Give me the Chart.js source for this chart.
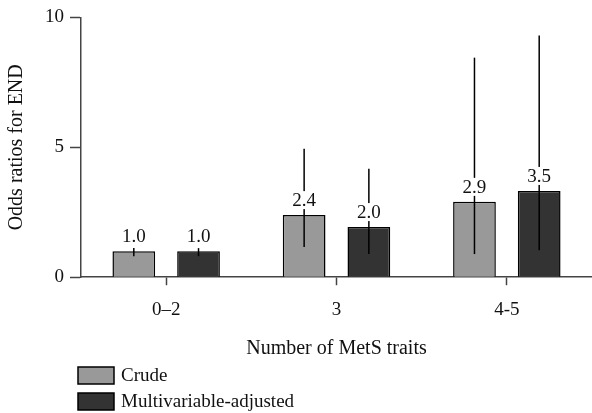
<!DOCTYPE html>
<html>
<head>
<meta charset="utf-8">
<script src="https://cdn.jsdelivr.net/npm/chart.js@4"></script>
<style>
  html, body { margin: 0; padding: 0; background: #fff; }
  #wrap { width: 592px; height: 413px; }
</style>
</head>
<body>
<div id="wrap"><canvas id="orChart" width="592" height="413"></canvas></div>
<script>
const categories = ["0–2", "3", "4-5"];
const crude = [1.0, 2.39, 2.9];
const adjusted = [1.0, 1.93, 3.32];
const crudeLabels = ["1.0", "2.4", "2.9"];
const adjustedLabels = ["1.0", "2.0", "3.5"];
const crudeLow = [0.81, 1.16, 0.89];
const crudeHigh = [1.12, 4.94, 8.45];
const adjustedLow = [0.81, 0.89, 1.04];
const adjustedHigh = [1.12, 4.17, 9.3];
const yTicks = [0, 5, 10];

const FONT = "'Liberation Serif', 'DejaVu Serif', serif";
const ciLow = [crudeLow, adjustedLow];
const ciHigh = [crudeHigh, adjustedHigh];
const valueLabels = [crudeLabels, adjustedLabels];

// whiskers + value labels (white box behind text hides the whisker)
const errorBars = {
  id: "errorBars",
  afterDatasetsDraw(chart) {
    const ctx = chart.ctx;
    const y = chart.scales.y;
    ctx.save();
    chart.data.datasets.forEach((ds, i) => {
      chart.getDatasetMeta(i).data.forEach((bar, j) => {
        ctx.strokeStyle = "#000";
        ctx.lineWidth = 1.5;
        ctx.beginPath();
        ctx.moveTo(bar.x, y.getPixelForValue(ciLow[i][j]));
        ctx.lineTo(bar.x, y.getPixelForValue(ciHigh[i][j]));
        ctx.stroke();
      });
    });
    ctx.font = "19px " + FONT;
    ctx.textAlign = "center";
    ctx.textBaseline = "middle";
    chart.data.datasets.forEach((ds, i) => {
      chart.getDatasetMeta(i).data.forEach((bar, j) => {
        const txt = valueLabels[i][j];
        const w = ctx.measureText(txt).width;
        const cy = bar.y - 15;
        ctx.fillStyle = "#fff";
        ctx.fillRect(bar.x - w / 2 - 1, cy - 9, w + 2, 18);
        ctx.fillStyle = "#111";
        ctx.fillText(txt, bar.x, cy + 1);
      });
    });
    ctx.restore();
  },
  afterDraw(chart) {
    const ctx = chart.ctx;
    ctx.save();
    ctx.font = "19px " + FONT;
    ctx.textBaseline = "middle";
    chart.data.datasets.forEach((ds, i) => {
      const top = 367 + i * 26;
      ctx.fillStyle = ds.backgroundColor;
      ctx.fillRect(78, top, 36, 17);
      ctx.strokeStyle = "#000";
      ctx.lineWidth = 1.5;
      ctx.strokeRect(78, top, 36, 17);
      ctx.fillStyle = "#111";
      ctx.fillText(ds.label, 121, top + 9);
    });
    ctx.restore();
  },
};

new Chart(document.getElementById("orChart"), {
  type: "bar",
  data: {
    labels: categories,
    datasets: [
      {
        label: "Crude",
        data: crude,
        backgroundColor: "#999999",
        borderColor: "#000",
        borderWidth: 1.5,
        borderSkipped: "bottom",
        categoryPercentage: 0.76,
        barPercentage: 0.66,
      },
      {
        label: "Multivariable-adjusted",
        data: adjusted,
        backgroundColor: "#333333",
        borderColor: "#000",
        borderWidth: 1.5,
        borderSkipped: "bottom",
        categoryPercentage: 0.76,
        barPercentage: 0.66,
      },
    ],
  },
  options: {
    responsive: false,
    animation: false,
    layout: { padding: { top: 15, right: 0, bottom: 48, left: 1 } },
    scales: {
      x: {
        grid: {
          offset: false,
          drawOnChartArea: false,
          tickLength: 8,
          tickColor: "#444",
          tickWidth: 1.5,
        },
        border: { color: "#444", width: 1.5 },
        ticks: { color: "#111", font: { family: FONT, size: 19 }, padding: 13 },
        title: {
          display: true,
          text: "Number of MetS traits",
          color: "#111",
          font: { family: FONT, size: 20 },
          padding: { top: 3 },
        },
      },
      y: {
        min: 0,
        max: 10,
        afterBuildTicks(axis) {
          axis.ticks = yTicks.map((v) => ({ value: v }));
        },
        grid: {
          drawOnChartArea: false,
          tickLength: 11,
          tickColor: "#444",
          tickWidth: 1.5,
        },
        border: { color: "#444", width: 1.5 },
        ticks: { color: "#111", font: { family: FONT, size: 19 }, padding: 6 },
        title: {
          display: true,
          text: "Odds ratios for END",
          color: "#111",
          font: { family: FONT, size: 20 },
          padding: { bottom: 10 },
        },
      },
    },
    plugins: {
      legend: { display: false },
      tooltip: { enabled: false },
    },
  },
  plugins: [errorBars],
});
</script>
</body>
</html>
